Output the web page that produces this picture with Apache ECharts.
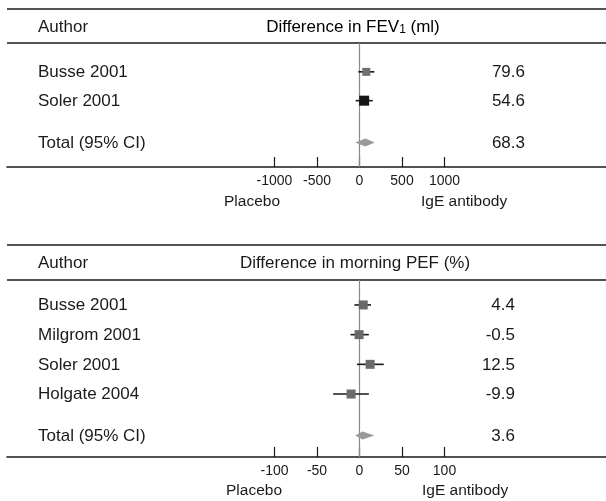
<!DOCTYPE html>
<html><head><meta charset="utf-8">
<script src="https://cdn.jsdelivr.net/npm/echarts@6/dist/echarts.min.js"></script>
<style>html,body{margin:0;padding:0;background:#fff}#c{width:606px;height:501px}</style>
</head><body><div id="c"></div>
<script>
// ---- data: panel 1 (FEV1, ml)
const fevAuthors = ['Busse 2001', 'Soler 2001'];
const fevEst = [79.6, 54.6];
const fevLo = [-15, -45];
const fevHi = [175, 155];
const fevTotal = [68.3, -50, 180]; // est, lo, hi
const fevTicks = [-1000, -500, 0, 500, 1000];
// ---- data: panel 2 (morning PEF, %)
const pefAuthors = ['Busse 2001', 'Milgrom 2001', 'Soler 2001', 'Holgate 2004'];
const pefEst = [4.4, -0.5, 12.5, -9.9];
const pefLo = [-6, -10.5, -3, -31];
const pefHi = [13.5, 11, 28.5, 11];
const pefTotal = [3.6, -5, 17.5];
const pefTicks = [-100, -50, 0, 50, 100];
const totalLabel = 'Total (95% CI)';

const FONT = '"Liberation Sans", Arial, sans-serif';
const squareColors = [['#707070', '#151515'], ['#6a6a6a', '#6a6a6a', '#6a6a6a', '#6a6a6a']];
const squareSizes = [[8, 10], [9, 9, 9, 9]];
const totalGap = [1.45, 1.4];

function buildData(authors, est, lo, hi, total, gap) {
  const d = authors.map((a, i) => ({ value: [est[i], lo[i], hi[i], i + 1, 0, i], name: a }));
  d.push({ value: [total[0], total[1], total[2], authors.length + gap, 1, -1], name: totalLabel });
  return d;
}

function makeRender(panel, valueRight) {
  return function (params, api) {
    const est = api.value(0), lo = api.value(1), hi = api.value(2), pos = api.value(3);
    const isTotal = api.value(4) === 1, idx = api.value(5);
    const p = api.coord([est, pos]);
    const l = api.coord([lo, pos]);
    const h = api.coord([hi, pos]);
    const children = [];
    const name = panel === 0 ? (isTotal ? totalLabel : fevAuthors[idx]) : (isTotal ? totalLabel : pefAuthors[idx]);
    const valText = (panel === 0 ? (isTotal ? fevTotal[0] : fevEst[idx]) : (isTotal ? pefTotal[0] : pefEst[idx])).toFixed(1);
    if (isTotal) {
      children.push({ type: 'polygon', shape: { points: [[l[0], l[1]], [p[0], p[1] - 4], [h[0], h[1]], [p[0], p[1] + 4]] },
        style: { fill: '#999999' } });
    } else {
      const s = squareSizes[panel][idx];
      children.push({ type: 'line', shape: { x1: l[0], y1: l[1], x2: h[0], y2: h[1] }, style: { stroke: '#1a1a1a', lineWidth: 1.6 } });
      children.push({ type: 'rect', shape: { x: p[0] - s / 2, y: p[1] - s / 2, width: s, height: s }, style: { fill: squareColors[panel][idx] } });
    }
    children.push({ type: 'text', x: 38, y: p[1] + 0.5, style: { text: name, font: '17px ' + FONT, fill: '#1a1a1a', textAlign: 'left', textVerticalAlign: 'middle' } });
    children.push({ type: 'text', x: valueRight, y: p[1] + 0.5, style: { text: valText, font: '17px ' + FONT, fill: '#1a1a1a', textAlign: 'right', textVerticalAlign: 'middle' } });
    return { type: 'group', children };
  };
}

const zero1 = 359.5, scale1 = 0.085, scale2 = 0.85;
function xAxisFor(grid, ticks, scale) {
  return {
    type: 'value', gridIndex: grid, position: 'bottom',
    min: (7 - zero1) / scale, max: (606 - zero1) / scale,
    axisLine: { show: true, onZero: false, lineStyle: { color: '#1a1a1a', width: 1.6 } },
    axisTick: { show: true, inside: true, length: 10, customValues: ticks, lineStyle: { color: '#1a1a1a', width: 1.2 } },
    axisLabel: { show: true, customValues: ticks, margin: 7, fontSize: 14, fontFamily: FONT, color: '#1a1a1a', formatter: v => String(v) },
    splitLine: { show: false }
  };
}

const chart = echarts.init(document.getElementById('c'), null, { renderer: 'canvas' });
const hl = (x1, x2, y) => ({ type: 'line', shape: { x1, y1: y, x2, y2: y }, style: { stroke: '#1a1a1a', lineWidth: 1.6 } });
const txt = (x, y, t, align, size) => ({ type: 'text', x, y, style: { text: t, font: size + 'px ' + FONT, fill: '#1a1a1a', textAlign: align, textVerticalAlign: 'middle' } });

chart.setOption({
  animation: false,
  grid: [
    { left: 7, right: 0, top: 43, height: 124 },
    { left: 7, right: 0, top: 280, height: 177 }
  ],
  xAxis: [xAxisFor(0, fevTicks, scale1), xAxisFor(1, pefTicks, scale2)],
  yAxis: [
    { type: 'value', gridIndex: 0, inverse: true, min: 0, max: 4.3, show: false },
    { type: 'value', gridIndex: 1, inverse: true, min: 0.16, max: 6.12, show: false }
  ],
  series: [
    { type: 'line', xAxisIndex: 0, yAxisIndex: 0, data: [[0, 0], [0, 4.3]], symbol: 'none', lineStyle: { color: '#8a8a8a', width: 1.2 }, z: 1 },
    { type: 'line', xAxisIndex: 1, yAxisIndex: 1, data: [[0, 0.16], [0, 6.12]], symbol: 'none', lineStyle: { color: '#8a8a8a', width: 1.2 }, z: 1 },
    { type: 'custom', xAxisIndex: 0, yAxisIndex: 0, clip: false, renderItem: makeRender(0, 525), data: buildData(fevAuthors, fevEst, fevLo, fevHi, fevTotal, totalGap[0]), z: 3 },
    { type: 'custom', xAxisIndex: 1, yAxisIndex: 1, clip: false, renderItem: makeRender(1, 515), data: buildData(pefAuthors, pefEst, pefLo, pefHi, pefTotal, totalGap[1]), z: 3 }
  ],
  graphic: [
    hl(7, 606, 9), hl(7, 606, 43), hl(7, 606, 245), hl(7, 606, 280),
    txt(38, 27, 'Author', 'left', 17),
    { type: 'text', x: 353, y: 27, style: { text: '{a|Difference in FEV}{s|1}{a| (ml)}', font: '17px ' + FONT, textAlign: 'center', textVerticalAlign: 'middle',
      rich: { a: { fontSize: 17, fontFamily: FONT, color: '#1a1a1a' }, s: { fontSize: 12, fontFamily: FONT, color: '#1a1a1a', verticalAlign: 'bottom', padding: [5, 0, 0, 0] } } } },
    txt(38, 263, 'Author', 'left', 17),
    txt(355, 263, 'Difference in morning PEF (%)', 'center', 17),
    txt(224, 202, 'Placebo', 'left', 15.5),
    txt(421, 202, 'IgE antibody', 'left', 15.5),
    txt(226, 491, 'Placebo', 'left', 15.5),
    txt(422, 491, 'IgE antibody', 'left', 15.5)
  ]
});
</script></body></html>
